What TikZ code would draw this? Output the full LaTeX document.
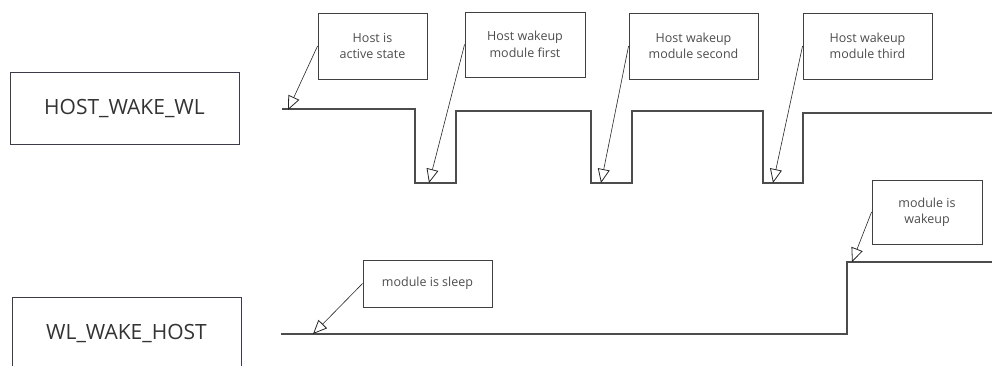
\documentclass[tikz,border=0pt]{standalone}
\usepackage{fontspec}
\setmainfont{Open Sans}
\usetikzlibrary{arrows.meta}
\definecolor{boxline}{HTML}{3C3C48}
\begin{document}
\begin{tikzpicture}[x=1pt,y=-1pt,
  sigbox/.style={draw=boxline, line width=1pt, inner sep=0pt, align=center, font=\fontsize{21}{24}\selectfont, text=black!80},
  note/.style={draw=black!75, line width=0.9pt, inner sep=0pt, align=center, font=\fontsize{12.5}{16.5}\selectfont, text=black!70},
  wave/.style={draw=black!70, line width=1.2pt},
  callout/.style={draw=black!85, line width=0.6pt, -{Triangle[open, length=14pt, width=12pt, line width=0.8pt]}}]
\useasboundingbox (0,0) rectangle (992,365);
\node[sigbox, minimum width=229pt, minimum height=72pt] (hww) at (124.5,108) {HOST\_WAKE\_WL};
\node[sigbox, minimum width=229pt, minimum height=72pt] (wwh) at (126.5,333) {WL\_WAKE\_HOST};
% waveforms
\draw[wave] (282,109) -- (415,109) -- (415,183) -- (456,183) -- (456,111) -- (591,111) -- (591,183) -- (632,183) -- (632,111) -- (763,111) -- (763,183) -- (803,183) -- (803,113) -- (992,113);
\draw[wave] (281,334) -- (847,334) -- (847,262) -- (992,262);
% notes
\node[note, minimum width=109pt, minimum height=66pt] (n1) at (372.5,46) {Host is\\active state};
\node[note, minimum width=120pt, minimum height=65pt] (n2) at (525,44.5) {Host wakeup\\module first};
\node[note, minimum width=129pt, minimum height=66pt] (n3) at (693.5,46) {Host wakeup\\module second};
\node[note, minimum width=129pt, minimum height=66pt] (n4) at (867.5,46) {Host wakeup\\module third};
\node[note, minimum width=110pt, minimum height=64pt] (n5) at (927,212) {module is\\wakeup};
\node[note, minimum width=129pt, minimum height=47pt] (n6) at (427.5,283.5) {module is sleep};
% targets
\coordinate (t1) at (288,110);
\coordinate (t2) at (429,183);
\coordinate (t3) at (601,183);
\coordinate (t4) at (773,183);
\coordinate (t5) at (852,262);
\coordinate (t6) at (313,334);
\draw[callout] (n1.west) -- (t1);
\draw[callout] (n2.west) -- (t2);
\draw[callout] (n3.west) -- (t3);
\draw[callout] (n4.west) -- (t4);
\draw[callout] (n5.west) -- (t5);
\draw[callout] (n6.west) -- (t6);
\end{tikzpicture}
\end{document}
